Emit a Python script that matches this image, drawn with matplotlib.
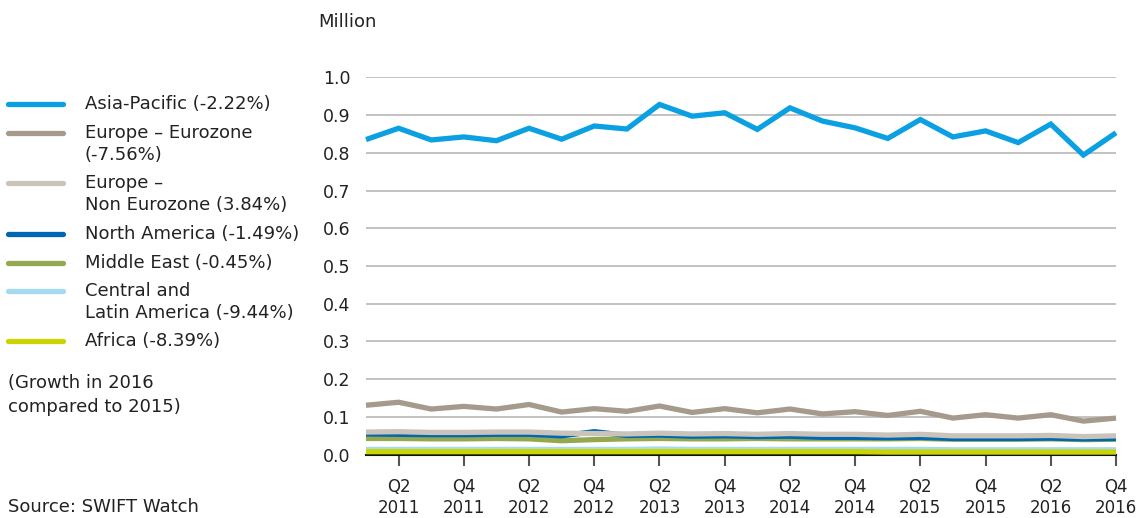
import matplotlib
matplotlib.use("Agg")
import matplotlib.pyplot as plt
from matplotlib.lines import Line2D
import numpy as np

plt.rcParams['font.family'] = ['DejaVu Sans']

quarters = [f"Q{q} {y}" for y in range(2011, 2017) for q in range(1, 5)]
tick_labels = [f"Q{q}\n{y}" for y in range(2011, 2017) for q in (2, 4)]

asia_pacific = [0.835, 0.865, 0.834, 0.842, 0.832, 0.865, 0.836, 0.871, 0.863, 0.928,
                0.897, 0.906, 0.862, 0.919, 0.884, 0.866, 0.838, 0.888, 0.842, 0.858,
                0.827, 0.876, 0.794, 0.853]
europe_eurozone = [0.131, 0.139, 0.121, 0.128, 0.121, 0.133, 0.113, 0.122, 0.115, 0.129,
                   0.112, 0.122, 0.111, 0.121, 0.108, 0.114, 0.104, 0.115, 0.097, 0.106,
                   0.097, 0.106, 0.089, 0.097]
europe_non_eurozone = [0.060, 0.061, 0.059, 0.059, 0.060, 0.060, 0.057, 0.056, 0.055, 0.057,
                       0.055, 0.056, 0.054, 0.056, 0.054, 0.054, 0.052, 0.054, 0.050, 0.050,
                       0.050, 0.051, 0.048, 0.050]
north_america = [0.055, 0.054, 0.053, 0.053, 0.054, 0.054, 0.050, 0.061, 0.051, 0.052,
                 0.049, 0.050, 0.048, 0.049, 0.046, 0.046, 0.045, 0.046, 0.043, 0.043,
                 0.043, 0.044, 0.042, 0.043]
middle_east = [0.043, 0.043, 0.042, 0.042, 0.043, 0.042, 0.037, 0.040, 0.042, 0.043,
               0.042, 0.042, 0.043, 0.042, 0.042, 0.042, 0.042, 0.043, 0.041, 0.041,
               0.041, 0.042, 0.040, 0.041]
central_latin_america = [0.014, 0.014, 0.014, 0.014, 0.014, 0.014, 0.014, 0.014, 0.014, 0.015,
                         0.014, 0.014, 0.014, 0.014, 0.014, 0.014, 0.014, 0.014, 0.013, 0.013,
                         0.013, 0.013, 0.013, 0.013]
africa = [0.008, 0.008, 0.008, 0.008, 0.008, 0.008, 0.008, 0.008, 0.008, 0.008,
          0.008, 0.008, 0.008, 0.008, 0.008, 0.008, 0.007, 0.007, 0.007, 0.007,
          0.007, 0.007, 0.007, 0.007]

series = {
    "ap": (["Asia-Pacific (-2.22%)"], asia_pacific, "#0AA0E2"),
    "ez": (["Europe \u2013 Eurozone", "(-7.56%)"], europe_eurozone, "#A69A8C"),
    "nez": (["Europe \u2013", "Non Eurozone (3.84%)"], europe_non_eurozone, "#C9C3BA"),
    "na": (["North America (-1.49%)"], north_america, "#0068B2"),
    "me": (["Middle East (-0.45%)"], middle_east, "#94A84F"),
    "cla": (["Central and", "Latin America (-9.44%)"], central_latin_america, "#A6D9F2"),
    "af": (["Africa (-8.39%)"], africa, "#C9D400"),
}
draw_order = ["ap", "ez", "me", "na", "nez", "cla", "af"]
legend_order = ["ap", "ez", "nez", "na", "me", "cla", "af"]

W, H = 1137, 518
fig = plt.figure(figsize=(W / 100, H / 100), dpi=100)
ax = fig.add_axes([366 / W, 1 - 454.7 / H, (1116 - 366) / W, (454.7 - 77.3) / H])

x = np.arange(len(quarters))
for i, key in enumerate(draw_order):
    _, vals, color = series[key]
    ax.plot(x, vals, color=color, lw=3.8, solid_joinstyle='miter', solid_capstyle='butt',
            zorder=3 + i, clip_on=False)

ax.set_xlim(0, len(quarters) - 1)
ax.set_ylim(0, 1.0)
yt = np.arange(0, 1.01, 0.1)
ax.set_yticks(yt)
ax.set_yticklabels([f"{v:.1f}" for v in yt])
ax.yaxis.grid(True, color="#B8B8B8", lw=1.2)
ax.set_axisbelow(True)
ax.tick_params(axis='y', length=0, pad=11, labelsize=12.5, labelcolor="#222222")

tick_pos = [i for i, q in enumerate(quarters) if q.startswith("Q2") or q.startswith("Q4")]
ax.set_xticks(tick_pos)
ax.set_xticklabels(tick_labels, linespacing=1.2)
ax.tick_params(axis='x', length=8, width=1.5, color="#555555", pad=9, labelsize=12,
               labelcolor="#222222", direction='out')

for s in ("top", "right", "left"):
    ax.spines[s].set_visible(False)
ax.spines["bottom"].set_color("#111111")
ax.spines["bottom"].set_linewidth(1.5)
ax.spines["bottom"].set_zorder(2.5)

fig.text(318 / W, 1 - 22 / H, "Million", fontsize=13, color="#222222", va='center', ha='left')

# legend
handle_y = [104, 133, 183, 234, 263, 291, 341]
line_gap = 22.5
for key, hy in zip(legend_order, handle_y):
    lines, vals, color = series[key]
    fig.add_artist(Line2D([8 / W, 63 / W], [1 - hy / H, 1 - hy / H], color=color, lw=3.8,
                          solid_capstyle='round', transform=fig.transFigure))
    for k, txt in enumerate(lines):
        fig.text(85 / W, 1 - (hy + k * line_gap) / H, txt, fontsize=13, color="#222222",
                 va='center', ha='left')

for k, txt in enumerate(["(Growth in 2016", "compared to 2015)"]):
    fig.text(8 / W, 1 - (383 + k * 24) / H, txt, fontsize=13, color="#222222",
             va='center', ha='left')
fig.text(8 / W, 1 - 507 / H, "Source: SWIFT Watch", fontsize=13, color="#222222",
         va='center', ha='left')

fig.savefig("out.png", dpi=100)
